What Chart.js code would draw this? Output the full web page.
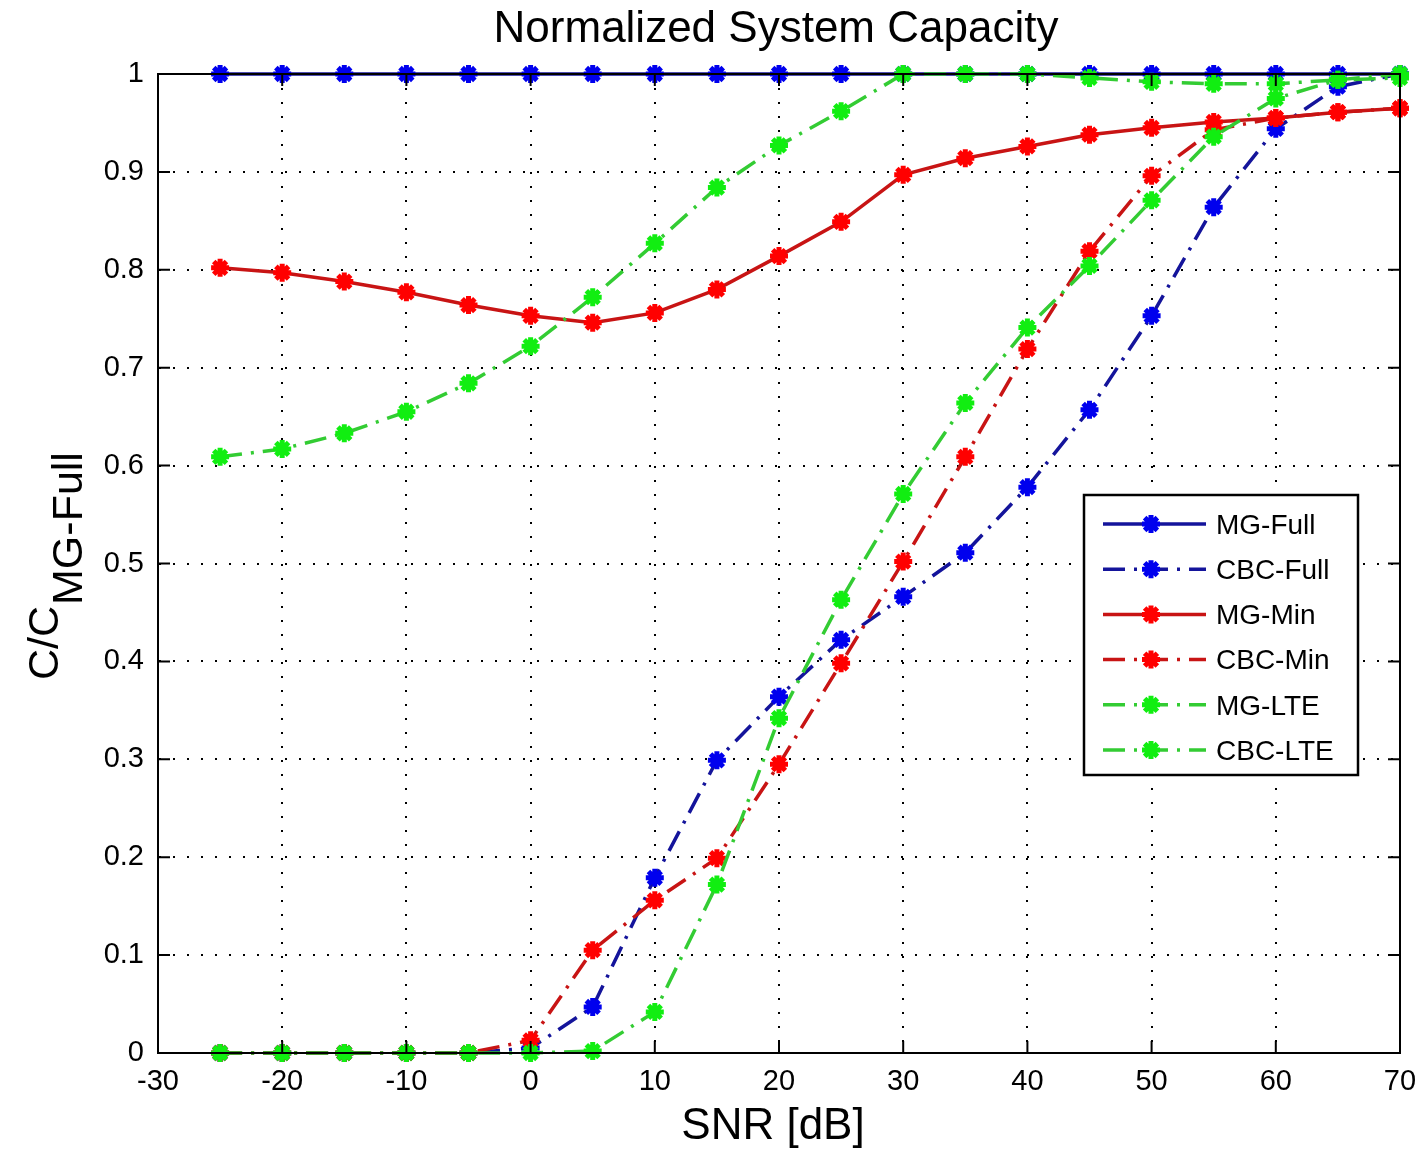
<!DOCTYPE html>
<html lang="en">
<head>
<meta charset="UTF-8">
<title>Normalized System Capacity</title>
<script src="https://cdn.jsdelivr.net/npm/chart.js"></script>
<style>
  body { margin: 0; background: #fff; }
  #wrap { width: 1422px; height: 1151px; }
</style>
</head>
<body>
<div id="wrap"><canvas id="capChart" width="1422" height="1151"></canvas></div>
<script>
// SNR points (dB)
const snr = [-25, -20, -15, -10, -5, 0, 5, 10, 15, 20, 25, 30, 35, 40, 45, 50, 55, 60, 65, 70];

// normalized capacity C / C_MG-Full
const mgFull  = [1, 1, 1, 1, 1, 1, 1, 1, 1, 1, 1, 1, 1, 1, 1, 1, 1, 1, 1, 1];
const cbcFull = [0, 0, 0, 0, 0, 0.005, 0.047, 0.179, 0.299, 0.364, 0.422, 0.466, 0.511, 0.578, 0.657, 0.753, 0.864, 0.944, 0.987, 1.0];
const mgMin   = [0.802, 0.797, 0.788, 0.777, 0.764, 0.753, 0.746, 0.756, 0.780, 0.814, 0.849, 0.897, 0.914, 0.926, 0.938, 0.945, 0.951, 0.955, 0.961, 0.965];
const cbcMin  = [0, 0, 0, 0, 0, 0.013, 0.105, 0.156, 0.199, 0.295, 0.398, 0.502, 0.609, 0.719, 0.819, 0.896, 0.943, 0.955, 0.961, 0.965];
const mgLte   = [0.609, 0.617, 0.633, 0.655, 0.684, 0.722, 0.772, 0.827, 0.884, 0.927, 0.962, 1.0, 1.0, 1.0, 0.996, 0.992, 0.99, 0.99, 0.994, 0.996];
const cbcLte  = [0, 0, 0, 0, 0, 0, 0.002, 0.042, 0.172, 0.342, 0.463, 0.571, 0.664, 0.741, 0.804, 0.871, 0.936, 0.975, 0.994, 1.0];

const seriesNames = ['MG-Full', 'CBC-Full', 'MG-Min', 'CBC-Min', 'MG-LTE', 'CBC-LTE'];
const seriesData = [mgFull, cbcFull, mgMin, cbcMin, mgLte, cbcLte];

const xTicks = [-30, -20, -10, 0, 10, 20, 30, 40, 50, 60, 70];
const yTicks = [0, 0.1, 0.2, 0.3, 0.4, 0.5, 0.6, 0.7, 0.8, 0.9, 1];

const FONT = '"Liberation Sans", Arial, sans-serif';
const dashDot = [22, 9, 3, 9];
const styles = [
    { line: '#14149b', mark: '#0000ee', dash: [] },
    { line: '#14149b', mark: '#0000ee', dash: dashDot },
    { line: '#c81414', mark: '#ff0000', dash: [] },
    { line: '#c81414', mark: '#ff0000', dash: dashDot },
    { line: '#33cc33', mark: '#11ee11', dash: dashDot },
    { line: '#33cc33', mark: '#11ee11', dash: dashDot }
];

const datasets = seriesData.map((vals, i) => ({
    label: seriesNames[i],
    data: vals.map((v, j) => ({ x: snr[j], y: v })),
    borderColor: styles[i].line,
    borderWidth: 3.5,
    borderDash: styles[i].dash,
    backgroundColor: styles[i].mark,
    pointStyle: 'star',
    pointRadius: 9,
    pointBorderWidth: 5,
    pointBorderColor: styles[i].mark,
    pointBackgroundColor: styles[i].mark,
    tension: 0,
    fill: false,
    clip: false,
    order: seriesNames.length - i
}));

function drawStar(ctx, x, y, r, color) {
    ctx.save();
    ctx.strokeStyle = color;
    ctx.lineWidth = 5;
    ctx.setLineDash([]);
    ctx.beginPath();
    for (let k = 0; k < 4; k++) {
        const a = k * Math.PI / 4;
        ctx.moveTo(x - r * Math.cos(a), y - r * Math.sin(a));
        ctx.lineTo(x + r * Math.cos(a), y + r * Math.sin(a));
    }
    ctx.stroke();
    ctx.restore();
}

// box, inward ticks, titles and legend, drawn like the original figure
const decorations = {
    id: 'decorations',
    afterDatasetsDraw(chart) {
        const ctx = chart.ctx;
        const a = chart.chartArea;
        const xs = chart.scales.x, ys = chart.scales.y;

        ctx.save();
        ctx.strokeStyle = '#000';
        ctx.lineWidth = 2;
        ctx.setLineDash([]);
        ctx.strokeRect(a.left, a.top, a.right - a.left, a.bottom - a.top);
        ctx.beginPath();
        xTicks.forEach(v => {
            const px = xs.getPixelForValue(v);
            ctx.moveTo(px, a.bottom); ctx.lineTo(px, a.bottom - 12);
            ctx.moveTo(px, a.top); ctx.lineTo(px, a.top + 12);
        });
        yTicks.forEach(v => {
            const py = ys.getPixelForValue(v);
            ctx.moveTo(a.left, py); ctx.lineTo(a.left + 12, py);
            ctx.moveTo(a.right, py); ctx.lineTo(a.right - 12, py);
        });
        ctx.stroke();

        // legend
        const lx = 1084, ly = 495, lw = 274, lh = 280;
        ctx.fillStyle = '#fff';
        ctx.fillRect(lx, ly, lw, lh);
        ctx.lineWidth = 2.5;
        ctx.strokeStyle = '#000';
        ctx.strokeRect(lx, ly, lw, lh);
        ctx.font = '28px ' + FONT;
        ctx.textBaseline = 'middle';
        ctx.textAlign = 'left';
        seriesNames.forEach((name, i) => {
            const cy = ly + 29 + i * 45.2;
            ctx.save();
            ctx.strokeStyle = styles[i].line;
            ctx.lineWidth = 3.5;
            ctx.setLineDash(styles[i].dash);
            ctx.beginPath();
            ctx.moveTo(lx + 19, cy);
            ctx.lineTo(lx + 122, cy);
            ctx.stroke();
            ctx.restore();
            drawStar(ctx, lx + 67, cy, 9, styles[i].mark);
            ctx.fillStyle = '#000';
            ctx.fillText(name, lx + 132, cy + 2);
        });
        ctx.restore();
    },
    afterDraw(chart) {
        const ctx = chart.ctx;
        ctx.save();
        ctx.fillStyle = '#000';
        ctx.font = '44px ' + FONT;
        ctx.textAlign = 'center';
        ctx.textBaseline = 'middle';
        ctx.fillText('Normalized System Capacity', 776, 30);
        ctx.fillText('SNR [dB]', 773, 1127);

        // y title with subscript
        ctx.translate(0, 567);
        ctx.rotate(-Math.PI / 2);
        ctx.textAlign = 'left';
        ctx.textBaseline = 'alphabetic';
        ctx.font = '43px ' + FONT;
        const w1 = ctx.measureText('C/C').width;
        ctx.fillText('C/C', -113, 58);
        ctx.fillText('MG-Full', -113 + w1 + 1, 82);
        ctx.restore();
    }
};

const chartConfig = {
    type: 'line',
    data: { datasets: datasets },
    options: {
        responsive: false,
        animation: false,
        layout: { padding: { top: 74, right: 22, left: 0, bottom: 0 } },
        plugins: {
            legend: { display: false },
            title: { display: false },
            tooltip: { enabled: false }
        },
        scales: {
            x: {
                type: 'linear',
                min: -30,
                max: 70,
                afterFit: s => { s.height = 98; s.paddingLeft = 0; s.paddingRight = 0; },
                afterBuildTicks: s => { s.ticks = xTicks.map(v => ({ value: v })); },
                ticks: {
                    color: '#000',
                    font: { family: FONT, size: 29 },
                    padding: 12,
                    maxRotation: 0
                },
                grid: { color: '#000', lineWidth: 2, drawTicks: false },
                border: { display: true, color: '#000', width: 2, dash: [2, 12] }
            },
            y: {
                type: 'linear',
                min: 0,
                max: 1,
                afterFit: s => { s.width = 158; s.paddingTop = 0; s.paddingBottom = 0; },
                afterBuildTicks: s => { s.ticks = yTicks.map(v => ({ value: v })); },
                ticks: {
                    color: '#000',
                    font: { family: FONT, size: 29 },
                    padding: 14,
                    callback: v => String(Math.round(v * 10) / 10)
                },
                grid: { color: '#000', lineWidth: 2, drawTicks: false },
                border: { display: true, color: '#000', width: 2, dash: [2, 12] }
            }
        }
    },
    plugins: [decorations]
};

const capChart = new Chart(document.getElementById('capChart').getContext('2d'), chartConfig);
</script>
</body>
</html>
